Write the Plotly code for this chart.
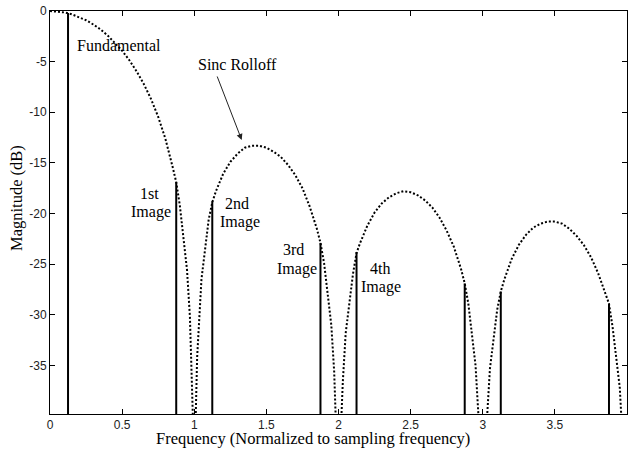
import plotly.graph_objects as go

# Sinc roll-off envelope (dB) against normalized frequency; None breaks the trace at each null
curve_freq = [
    0, 0.05, 0.1, 0.15, 0.2, 0.25, 0.3, 0.35, 0.4, 0.45, 0.5, 0.55, 0.6, 0.65, 0.7,
    0.75, 0.8, 0.85, 0.875, 0.9, 0.95, 0.97, 0.99, None,
    1.01, 1.02, 1.05, 1.1, 1.125, 1.15, 1.2, 1.25, 1.3, 1.35, 1.4, 1.45, 1.5, 1.55,
    1.6, 1.65, 1.7, 1.75, 1.8, 1.85, 1.875, 1.9, 1.95, 1.97, 1.98, None,
    2.02, 2.03, 2.05, 2.1, 2.125, 2.15, 2.2, 2.25, 2.3, 2.35, 2.4, 2.45, 2.5, 2.55, 2.6,
    2.65, 2.7, 2.75, 2.8, 2.85, 2.875, 2.9, 2.95, 2.97, None,
    3.03, 3.035, 3.05, 3.1, 3.125, 3.15, 3.2, 3.25, 3.3, 3.35, 3.4, 3.45, 3.5, 3.55, 3.6,
    3.65, 3.7, 3.75, 3.8, 3.85, 3.875, 3.9, 3.95, 3.96,
]
curve_db = [
    0, -0.04, -0.14, -0.32, -0.58, -0.91, -1.33, -1.82, -2.42, -3.12, -3.92, -4.86, -5.95, -7.2, -8.68,
    -10.45, -12.62, -15.39, -16.9, -19.2, -25.6, -30.2, -39.9, None,
    -40.1, -34.2, -26.5, -20.6, -18.9, -17.8, -16.1, -14.9, -14.1, -13.5, -13.3, -13.3, -13.5, -13.9,
    -14.4, -15.2, -16.2, -17.5, -19.3, -21.5, -22.9, -24.9, -31.0, -35.6, -39.9, None,
    -40.1, -36.6, -31.8, -26.0, -23.9, -22.9, -21.2, -19.9, -19.0, -18.4, -18.0, -17.8, -17.9, -18.2, -18.7,
    -19.4, -20.4, -21.7, -23.3, -25.5, -26.9, -28.9, -35.0, -39.9, None,
    -40.1, -38.8, -35.3, -29.5, -27.7, -26.5, -24.5, -23.1, -22.1, -21.4, -21.0, -20.8, -20.8, -21.0, -21.5,
    -22.2, -23.1, -24.3, -25.9, -27.9, -28.9, -31.2, -37.2, -39.9,
]

# Fundamental and its images
tone_freq = [0.125, 0.875, 1.125, 1.875, 2.125, 2.875, 3.125, 3.875]
tone_db = [-0.2, -16.9, -18.8, -22.9, -23.8, -26.9, -27.7, -28.9]
floor_db = -45

x_ticks = [0, 0.5, 1, 1.5, 2, 2.5, 3, 3.5, 4]
x_tick_text = ["0", "0.5", "1", "1.5", "2", "2.5", "3", "3.5", "4"]
y_ticks = [0, -5, -10, -15, -20, -25, -30, -35]
y_tick_text = ["0", "-5", "-10", "-15", "-20", "-25", "-30", "-35"]

# Text labels: (text, x, y, anchor)
labels = [
    ("Fundamental", 0.173, -3.36, "left"),
    ("Sinc Rolloff", 1.012, -5.33, "left"),
    ("1st", 0.693, -18.0, "center"),
    ("Image", 0.698, -19.88, "center"),
    ("2nd", 1.293, -18.99, "center"),
    ("Image", 1.315, -20.87, "center"),
    ("3rd", 1.685, -23.6, "center"),
    ("Image", 1.714, -25.48, "center"),
    ("4th", 2.29, -25.41, "center"),
    ("Image", 2.293, -27.23, "center"),
]
arrow_tail = (1.155, -6.32)
arrow_head = (1.329, -12.74)

serif = "Liberation Serif, Times New Roman, serif"
sans = "Liberation Sans, Arial, sans-serif"

# Vertical stems from below the axis floor up to each tone level
stem_x, stem_y = [], []
for f, v in zip(tone_freq, tone_db):
    stem_x += [f, f, None]
    stem_y += [floor_db, v, None]

fig = go.Figure()
fig.add_trace(go.Scatter(
    x=curve_freq, y=curve_db, mode="lines", connectgaps=False,
    line=dict(color="black", width=2, dash="2px,2px"), hoverinfo="skip",
))
fig.add_trace(go.Scatter(
    x=stem_x, y=stem_y, mode="lines",
    line=dict(color="black", width=2), hoverinfo="skip",
))

annotations = []
for text, x, y, anchor in labels:
    annotations.append(dict(
        text=text, x=x, y=y, xref="x", yref="y", xanchor=anchor, yanchor="middle",
        showarrow=False, font=dict(family=serif, size=16, color="black"),
    ))
annotations.append(dict(
    text="", x=arrow_head[0], y=arrow_head[1], xref="x", yref="y",
    ax=arrow_tail[0], ay=arrow_tail[1], axref="x", ayref="y",
    showarrow=True, arrowhead=2, arrowsize=1.2, arrowwidth=1, arrowcolor="#222",
    standoff=0,
))
annotations.append(dict(
    text="Frequency (Normalized to sampling frequency)", x=0.4558, y=-0.062,
    xref="paper", yref="paper", xanchor="center", yanchor="middle", showarrow=False,
    font=dict(family=serif, size=16.5, color="black"),
))
annotations.append(dict(
    text="Magnitude (dB)", x=-0.0572, y=0.536, xref="paper", yref="paper",
    xanchor="center", yanchor="middle", textangle=-90, showarrow=False,
    font=dict(family=serif, size=16.5, color="black"),
))

axis_style = dict(
    showline=True, linecolor="black", linewidth=1, mirror="ticks",
    ticks="inside", ticklen=5, tickwidth=1, tickcolor="black",
    showgrid=False, zeroline=False, automargin=False,
    tickfont=dict(family=sans, size=12, color="#222"),
)

fig.update_layout(
    width=630, height=451,
    margin=dict(l=50, r=3, t=11, b=37),
    paper_bgcolor="white", plot_bgcolor="white",
    showlegend=False,
    annotations=annotations,
    xaxis=dict(range=[0, 4], tickvals=x_ticks, ticktext=x_tick_text, **axis_style),
    yaxis=dict(range=[-39.8, 0], tickvals=y_ticks, ticktext=y_tick_text, **axis_style),
)

fig.write_html("out.html")
